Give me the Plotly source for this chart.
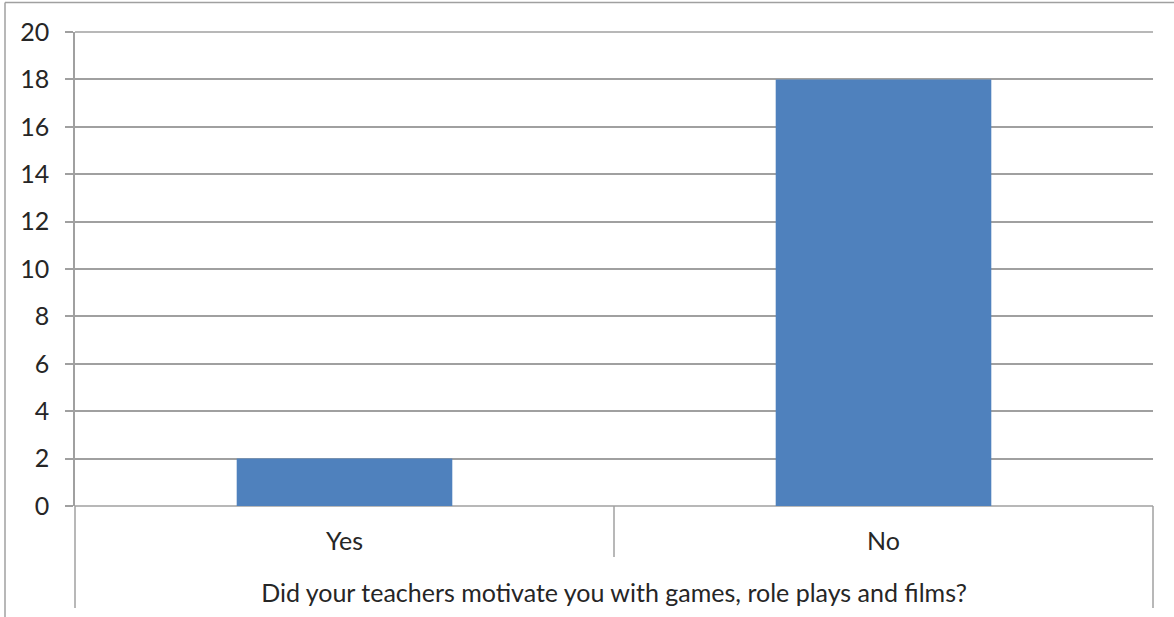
import plotly.graph_objects as go

# Survey answers and counts
categories = ["Yes", "No"]
counts = [2, 18]
y_ticks = [0, 2, 4, 6, 8, 10, 12, 14, 16, 18, 20]
axis_title = "Did your teachers motivate you with games, role plays and films?"

W, H = 1174, 617
L, R, T, B = 75, 21, 32, 111
plot_w = W - L - R
plot_h = H - T - B

def px_x(x):
    return (x - L) / plot_w

def px_y(y):
    return (H - B - y) / plot_h

line_col = "#A0A0A0"
font_fam = "Lato, 'Open Sans', sans-serif"
text_col = "#262626"
fsize = 25

fig = go.Figure(
    go.Bar(
        x=categories,
        y=counts,
        marker=dict(color="#4F81BD", line=dict(width=0)),
        width=0.4,
        hoverinfo="x+y",
    )
)

def seg(x0, y0, x1, y1):
    return dict(type="line", xref="paper", yref="paper", layer="below",
                x0=x0, x1=x1, y0=y0, y1=y1,
                line=dict(color=line_col, width=1.5))

shapes = [
    # outer chart border (top and left edges)
    seg(px_x(5), px_y(2.5), px_x(W + 5), px_y(2.5)),
    seg(px_x(5), px_y(2.5), px_x(5), px_y(H + 5)),
    # gridlines at the two ends of the value range
    seg(0, 0, 1, 0),
    seg(0, 1, 1, 1),
    # category table lines under the axis
    seg(0, 0, 0, px_y(608)),
    seg(0.5, 0, 0.5, px_y(557)),
    seg(1, 0, 1, px_y(608)),
]

fig.update_layout(
    width=W,
    height=H,
    margin=dict(l=L, r=R, t=T, b=B, pad=0, autoexpand=False),
    paper_bgcolor="white",
    plot_bgcolor="white",
    showlegend=False,
    bargap=0.6,
    shapes=shapes,
    font=dict(family=font_fam, size=fsize, color=text_col),
    xaxis=dict(
        type="category",
        automargin=False,
        showgrid=False,
        showline=False,
        ticks="",
        tickfont=dict(family=font_fam, size=fsize, color=text_col),
        ticklabelstandoff=18,
        title=dict(text=axis_title, standoff=30,
                   font=dict(family=font_fam, size=fsize, color=text_col)),
        fixedrange=True,
    ),
    yaxis=dict(
        range=[0, 20],
        automargin=False,
        tickvals=y_ticks,
        ticktext=[str(v) for v in y_ticks],
        showgrid=True,
        gridcolor=line_col,
        gridwidth=1.5,
        zeroline=False,
        showline=True,
        linecolor=line_col,
        linewidth=1.5,
        ticks="outside",
        ticklen=8,
        tickcolor=line_col,
        tickwidth=1.5,
        ticklabelstandoff=11,
        tickfont=dict(family=font_fam, size=fsize, color=text_col),
        fixedrange=True,
    ),
)

fig.write_html("out.html")
